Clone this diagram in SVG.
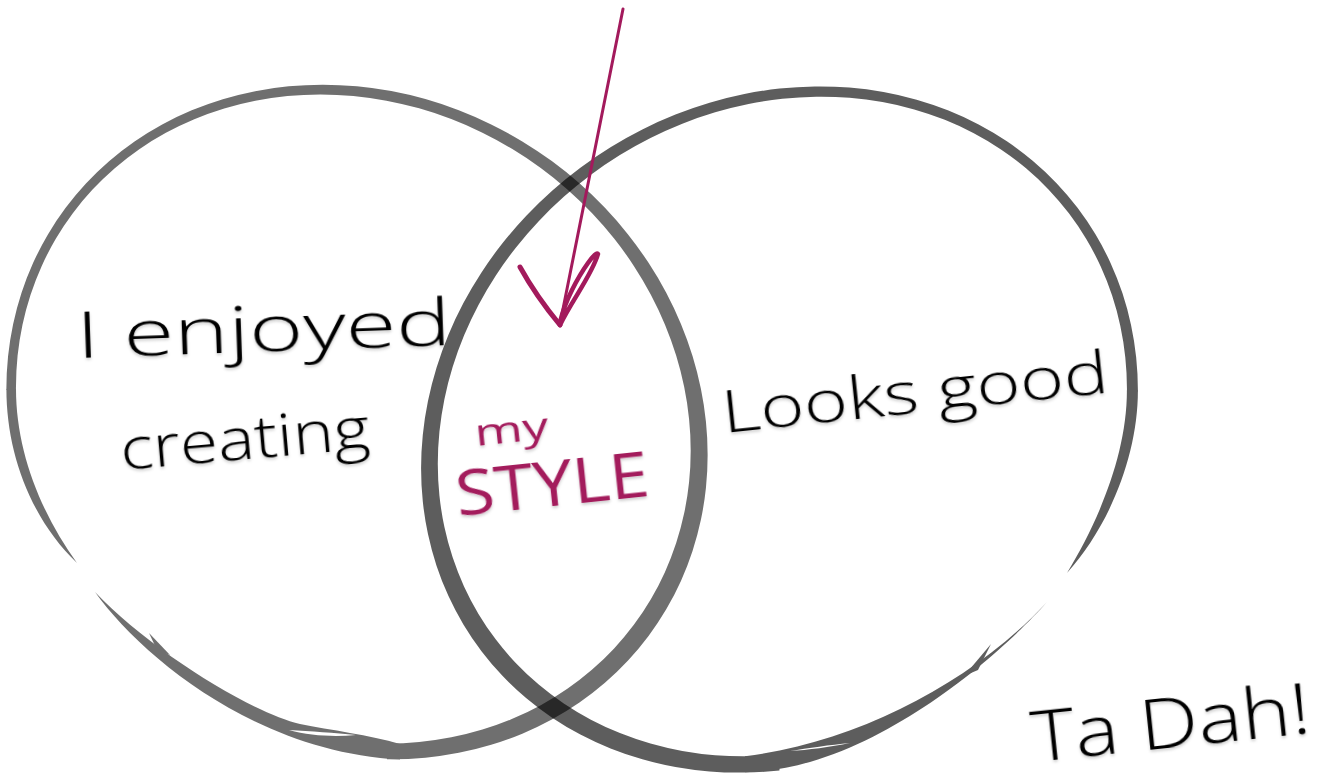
<svg xmlns="http://www.w3.org/2000/svg" width="1328" height="781" viewBox="0 0 1328 781">
<defs>
<filter id="shadow" x="-5%" y="-30%" width="110%" height="160%">
<feDropShadow dx="0" dy="2" stdDeviation="1.5" flood-color="#000" flood-opacity="0.2"/>
</filter>
<clipPath id="cut-l"><path d="M0 0 H1328 V781 H387 V389.7 H0 Z"/></clipPath>
<clipPath id="cut-r"><path d="M0 0 H1328 V391.4 H779.5 V781 H0 Z"/></clipPath>
<style>
.ring-l{opacity:0.56}
.ring-r{opacity:0.63}
.fillb{fill:#000;stroke:none}
.band{fill:#000;fill-rule:evenodd;stroke:none}
.gap{fill:#fff;stroke:none}
.hand{font-family:"Open Sans","DejaVu Sans",sans-serif;font-weight:300;fill:#000;filter:url(#shadow)}
.style{fill:#a31a5c;font-weight:400}
.arrow{fill:none;stroke:#a31a5c;stroke-linecap:round;stroke-linejoin:round}
</style>
</defs>
<rect width="1328" height="781" fill="#fff"/>

<g id="node-enjoyed-creating">
<g class="ring-l">
<g clip-path="url(#cut-l)">
<path class="band" transform="matrix(344 32.3 0 329.4 357 422)" d="M1.0193 0 A1.0193 1.0193 0 1 1 -1.0193 0 A1.0193 1.0193 0 1 1 1.0193 0 Z M0.97002 -0.00801 A0.9807 0.9807 0 1 0 -0.99138 -0.00801 A0.9807 0.9807 0 1 0 0.97002 -0.00801 Z"/>
</g>
<path class="fillb" d="M6.4 389 C6.4 452 30 518 77 563 C40 512 16 450 16 389 Z"/>
<path class="fillb" d="M95 592 C140 655 255 752 400 759.5 L400 744 C370 735 330 730 300 724 C250 712 150 650 95 592 Z"/>
<path class="fillb" d="M149 633 L170 655 L157 650 Z"/>
</g>
<path class="gap" d="M289 730 C310 731 335 733 356 735 C335 737 310 736 289 730 Z"/>
<text class="hand" x="77" y="358" font-size="64" textLength="375" lengthAdjust="spacingAndGlyphs" transform="rotate(-2 77 358)">I enjoyed</text>
<text class="hand" x="122" y="470" font-size="58" textLength="250" lengthAdjust="spacingAndGlyphs" transform="rotate(-5 122 470)">creating</text>
</g>

<g id="node-looks-good">
<g class="ring-r">
<g clip-path="url(#cut-r)">
<path class="band" transform="matrix(351.5 -38.1 0 334.3 779.5 429.5)" d="M1.0197 0 A1.0197 1.0197 0 1 1 -1.0197 0 A1.0197 1.0197 0 1 1 1.0197 0 Z M0.98846 -0.00816 A0.9803 0.9803 0 1 0 -0.97214 -0.00816 A0.9803 0.9803 0 1 0 0.98846 -0.00816 Z"/>
</g>
<path class="fillb" d="M1137.9 390.6 C1137.9 455 1110 525 1067 573 C1098 522 1126.9 455 1126.9 390.6 Z"/>
<path class="fillb" d="M1047 602 C1000 655 870 770 745 772.3 L745 756.3 C860 742 975 680 1047 602 Z"/>
<path class="fillb" d="M991 644 L978 670 L964 676 Z"/>
</g>
<path class="gap" d="M790 751 C808 748 830 745 850 743 C830 747 808 750 790 751 Z"/>
<text class="hand" x="724" y="433" font-size="58" textLength="388" lengthAdjust="spacingAndGlyphs" transform="rotate(-6 724 433)">Looks good</text>
</g>

<g id="node-my-style">
<text class="hand style" x="476" y="446" font-size="36" textLength="74" lengthAdjust="spacingAndGlyphs" transform="rotate(-6 476 446)">my</text>
<text class="hand style" x="458" y="516" font-size="62" textLength="194" lengthAdjust="spacingAndGlyphs" transform="rotate(-6 458 516)">STYLE</text>
</g>

<g id="node-ta-dah">
<text class="hand" x="1034" y="762" font-size="70" textLength="280" lengthAdjust="spacingAndGlyphs" transform="rotate(-6 1034 762)">Ta Dah!</text>
</g>

<g id="connectors">
<path class="arrow" stroke-width="3" d="M623 9 L560 324"/>
<path class="arrow" stroke-width="5" d="M520 267 Q536 296 560 325"/>
<path class="arrow" stroke-width="4.5" d="M560 325 C572 300 592 275 598 254 C596 250 582 270 572 290 C566 302 562 314 560 322"/>
</g>
</svg>
